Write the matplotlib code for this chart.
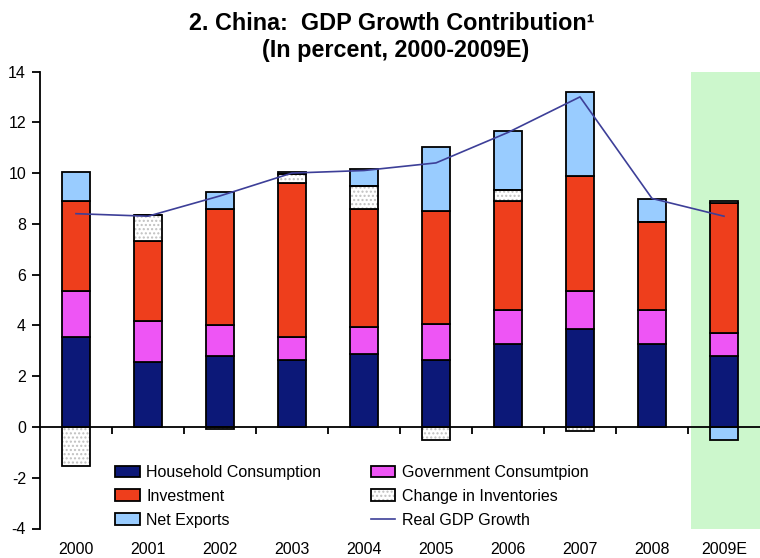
import matplotlib
matplotlib.use("Agg")
import matplotlib.pyplot as plt
import numpy as np
from matplotlib.patches import Patch
from matplotlib.lines import Line2D
from matplotlib.legend_handler import HandlerTuple
import matplotlib.transforms as mtransforms

plt.rcParams['font.family'] = ['Liberation Sans', 'DejaVu Sans']

years = ["2000", "2001", "2002", "2003", "2004", "2005", "2006", "2007", "2008", "2009E"]
household = [3.53, 2.55, 2.78, 2.63, 2.88, 2.63, 3.27, 3.86, 3.28, 2.78]
government = [1.82, 1.64, 1.25, 0.90, 1.06, 1.41, 1.32, 1.51, 1.34, 0.93]
investment = [3.55, 3.13, 4.54, 6.09, 4.63, 4.45, 4.31, 4.51, 3.45, 5.10]
inventories = [-1.55, 1.01, -0.10, 0.33, 0.92, -0.50, 0.42, -0.17, 0.00, 0.09]
net_exports = [1.14, 0.00, 0.68, 0.09, 0.66, 2.55, 2.34, 3.33, 0.92, -0.50]
real_gdp = [8.4, 8.3, 9.1, 10.0, 10.1, 10.4, 11.6, 13.0, 9.0, 8.3]

labels = ["Household Consumption", "Government Consumtpion", "Investment",
          "Change in Inventories", "Net Exports", "Real GDP Growth"]

c_hh = "#0c1878"
c_gov = "#ee55f5"
c_inv = "#ee3e1c"
c_nx = "#99ccff"
c_line = "#3d3f98"
c_shade = "#ccf7cc"

fig = plt.figure(figsize=(7.6, 5.58), dpi=100)
ax = fig.add_axes([40/760, 1-528.5/558, 720/760, (528.5-71.5)/558])

x = np.arange(len(years))
w = 0.40

ax.axvspan(8.54, 9.5, color=c_shade, zorder=0, lw=0)

series = [household, government, investment, inventories, net_exports]
colors = [c_hh, c_gov, c_inv, "white", c_nx]
pos_base = np.zeros(len(years))
neg_base = np.zeros(len(years))
for k, (vals, col) in enumerate(zip(series, colors)):
    vals = np.array(vals, dtype=float)
    bottoms = np.where(vals >= 0, pos_base, neg_base)
    if k == 3:
        ax.bar(x, vals, w, bottom=bottoms, color="white", edgecolor="#c0c0c0",
               hatch="....", linewidth=0, zorder=2)
        ax.bar(x, vals, w, bottom=bottoms, fill=False, edgecolor="black",
               linewidth=1.3, zorder=3)
    else:
        ax.bar(x, vals, w, bottom=bottoms, color=col, edgecolor="black",
               linewidth=1.3, zorder=2)
    pos_base = pos_base + np.where(vals >= 0, vals, 0)
    neg_base = neg_base + np.where(vals < 0, vals, 0)

ax.plot(x, real_gdp, color=c_line, lw=1.2, zorder=4)

ax.set_xlim(-0.5, 9.5)
ax.set_ylim(-4, 14)
ax.spines['top'].set_visible(False)
ax.spines['right'].set_visible(False)
ax.spines['bottom'].set_position(('data', 0))
ax.spines['left'].set_linewidth(1.3)
ax.spines['bottom'].set_linewidth(1.3)
ax.spines['bottom'].set_zorder(5)
ax.set_yticks(np.arange(-4, 15, 2))
ax.set_yticklabels([str(v) for v in range(-4, 15, 2)])
ax.tick_params(axis='y', direction='out', length=6, width=1.3, labelsize=11.5, pad=4)
ax.set_xticks(np.arange(0.5, 9.5, 1.0))
ax.set_xticklabels([])
ax.tick_params(axis='x', direction='out', length=5, width=1.3)
ax.set_facecolor("none")

trans = mtransforms.blended_transform_factory(ax.transData, fig.transFigure)
for xi, lab in zip(x, years):
    ax.text(xi, 1-549/558, lab, transform=trans, ha='center', va='center',
            fontsize=11.5)

fig.text(0.515, 1-23/558, "2. China:  GDP Growth Contribution\u00b9", ha='center',
         va='center', fontsize=16.8, fontweight='bold')
fig.text(0.52, 1-51/558, "(In percent, 2000-2009E)", ha='center', va='center',
         fontsize=16.8, fontweight='bold')

h_hh = Patch(facecolor=c_hh, edgecolor='black', linewidth=1.3)
h_gov = Patch(facecolor=c_gov, edgecolor='black', linewidth=1.3)
h_inv = Patch(facecolor=c_inv, edgecolor='black', linewidth=1.3)
h_nx = Patch(facecolor=c_nx, edgecolor='black', linewidth=1.3)
h_ci = (Patch(facecolor='white', edgecolor='#c0c0c0', hatch='....', linewidth=0),
        Patch(fill=False, edgecolor='black', linewidth=1.3))
h_gdp = Line2D([], [], color=c_line, lw=1.2)
handles = [h_hh, h_inv, h_nx, h_gov, h_ci, h_gdp]
leg_labels = [labels[0], labels[2], labels[4], labels[1], labels[3], labels[5]]
leg = fig.legend(handles, leg_labels, ncol=2, loc='upper left',
                 bbox_to_anchor=(115/760, 1-465/558), frameon=False,
                 fontsize=11.5, handlelength=1.55, handleheight=0.75,
                 handletextpad=0.4, labelspacing=0.55, columnspacing=3.1,
                 borderpad=0, borderaxespad=0,
                 handler_map={tuple: HandlerTuple(ndivide=1, pad=0)})

fig.savefig("out.png", dpi=100)
